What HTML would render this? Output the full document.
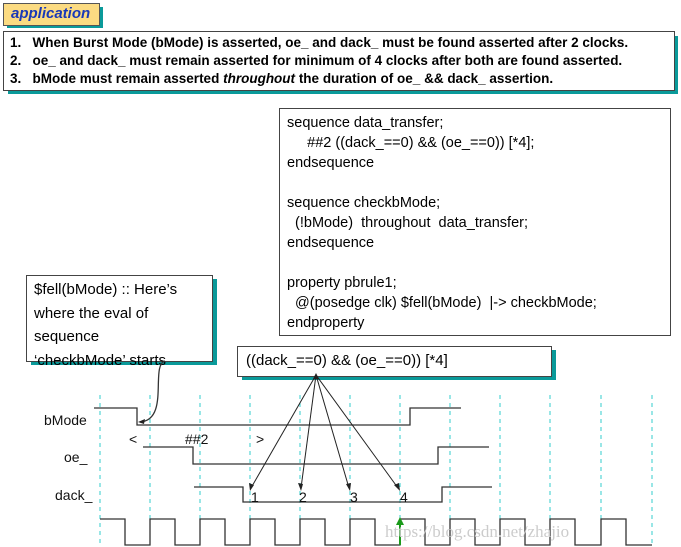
<!DOCTYPE html>
<html><head><style>
body{margin:0;width:681px;height:547px;background:#fff;position:relative;overflow:hidden;font-family:"Liberation Sans",sans-serif;color:#000}
.a{position:absolute}
.box{position:absolute;background:#fff;border:1px solid #444;}
</style></head><body>
<div class="a" style="left:7px;top:7px;width:96px;height:21px;background:#0a9a9a"></div>
<div class="box" style="left:3px;top:3px;width:95px;height:21px;background:#fbdb82;border-color:#555"><span style="position:absolute;left:7px;top:1px;color:#1838b8;font-style:italic;font-weight:bold;font-size:15px">application</span></div>
<div class="a" style="left:8px;top:36px;width:670px;height:58px;background:#0a9a9a"></div>
<div class="box" style="left:3px;top:31px;width:670px;height:58px;font-size:13.5px;line-height:18px;font-weight:bold">
<div style="position:absolute;left:6px;top:2px;white-space:nowrap">1.&nbsp;&nbsp;&nbsp;When Burst Mode (bMode) is asserted, oe_ and dack_ must be found asserted after 2 clocks.<br>2.&nbsp;&nbsp;&nbsp;oe_ and dack_ must remain asserted for minimum of 4 clocks after both are found asserted.<br>3.&nbsp;&nbsp;&nbsp;bMode must remain asserted <i>throughout</i> the duration of oe_ &amp;&amp; dack_ assertion.</div></div>
<div class="box" style="left:279px;top:108px;width:390px;height:226px;font-size:14.5px;line-height:20px">
<div style="position:absolute;left:7px;top:4px;white-space:pre">sequence data_transfer;
     ##2 ((dack_==0) &amp;&amp; (oe_==0)) [*4];
endsequence

sequence checkbMode;
  (!bMode)  throughout  data_transfer;
endsequence

property pbrule1;
  @(posedge clk) $fell(bMode)  |-&gt; checkbMode;
endproperty</div></div>
<div class="a" style="left:31px;top:279px;width:186px;height:86px;background:#0a9a9a"></div>
<div class="box" style="left:26px;top:275px;width:185px;height:85px;font-size:15px;line-height:23.5px"><div style="position:absolute;left:7px;top:2px;white-space:pre">$fell(bMode) :: Here’s
where the eval of
sequence
‘checkbMode’ starts</div></div>
<div class="a" style="left:242px;top:350px;width:314px;height:30px;background:#0a9a9a"></div>
<div class="box" style="left:237px;top:346px;width:313px;height:29px;font-size:15px"><div style="position:absolute;left:8px;top:5px">((dack_==0) &amp;&amp; (oe_==0)) [*4]</div></div>
<svg class="a" style="left:0;top:0" width="681" height="547">
<g stroke="#3cc" stroke-dasharray="4,4" stroke-width="1">
<line x1="100" y1="395" x2="100" y2="547"/><line x1="150" y1="395" x2="150" y2="547"/><line x1="200" y1="395" x2="200" y2="547"/><line x1="250" y1="395" x2="250" y2="547"/><line x1="300" y1="395" x2="300" y2="547"/><line x1="350" y1="395" x2="350" y2="547"/><line x1="400" y1="395" x2="400" y2="547"/><line x1="450" y1="395" x2="450" y2="547"/><line x1="500" y1="395" x2="500" y2="547"/><line x1="550" y1="395" x2="550" y2="547"/><line x1="601" y1="395" x2="601" y2="547"/><line x1="652" y1="395" x2="652" y2="547"/>
</g>
<g fill="none" stroke="#333" stroke-width="1.3">
<polyline points="94,408 137,408 137,425 410,425 410,408 461,408"/>
<polyline points="143,447 193,447 193,464 438,464 438,447 489,447"/>
<polyline points="194,487 243,487 243,502 442,502 442,487 492,487"/>
<polyline points="100,519 125,519 125,545 150,545 150,519 175,519 175,545 200,545 200,519 225,519 225,545 250,545 250,519 275,519 275,545 300,545 300,519 325,519 325,545 350,545 350,519 375,519 375,545 400,545 400,519 425,519 425,545 450,545 450,519 475,519 475,545 500,545 500,519 525,519 525,545 550,545 550,519 575,519 575,545 601,545 601,519 626,519 626,545 652,545"/>
<path d="M165,361 C150,365 170,420 140,422"/>
</g>
<line x1="400" y1="545" x2="400" y2="522" stroke="#1a9a1a" stroke-width="2"/>
<polygon points="400,517 396,525 404,525" fill="#1a9a1a"/>
<g stroke="#222" stroke-width="1">
<line x1="316" y1="375" x2="251" y2="488"/><line x1="316" y1="375" x2="301" y2="488"/><line x1="316" y1="375" x2="349" y2="488"/><line x1="316" y1="375" x2="398" y2="488"/>
</g>
<g fill="#222">
<polygon points="250,491 249,483 254,485"/><polygon points="301,491 298,483 303,484"/><polygon points="350,491 346,484 351,483"/><polygon points="400,491 394,485 399,483"/><polygon points="138,422 145,419 144,424"/><polygon points="316,373 313,379 319,379"/>
</g>
<g font-family="Liberation Sans,sans-serif" font-size="14" fill="#111">
<text x="44" y="425">bMode</text><text x="64" y="462">oe_</text><text x="55" y="500">dack_</text>
<text x="129" y="444">&lt;</text><text x="185" y="444">##2</text><text x="256" y="444">&gt;</text>
<text x="251" y="502">1</text><text x="299" y="502">2</text><text x="350" y="502">3</text><text x="400" y="502">4</text>
</g>
<text x="385" y="537" font-family="Liberation Serif,serif" font-size="17" fill="#ccc">https://blog.csdn.net/zhajio</text>
</svg>
</body></html>
